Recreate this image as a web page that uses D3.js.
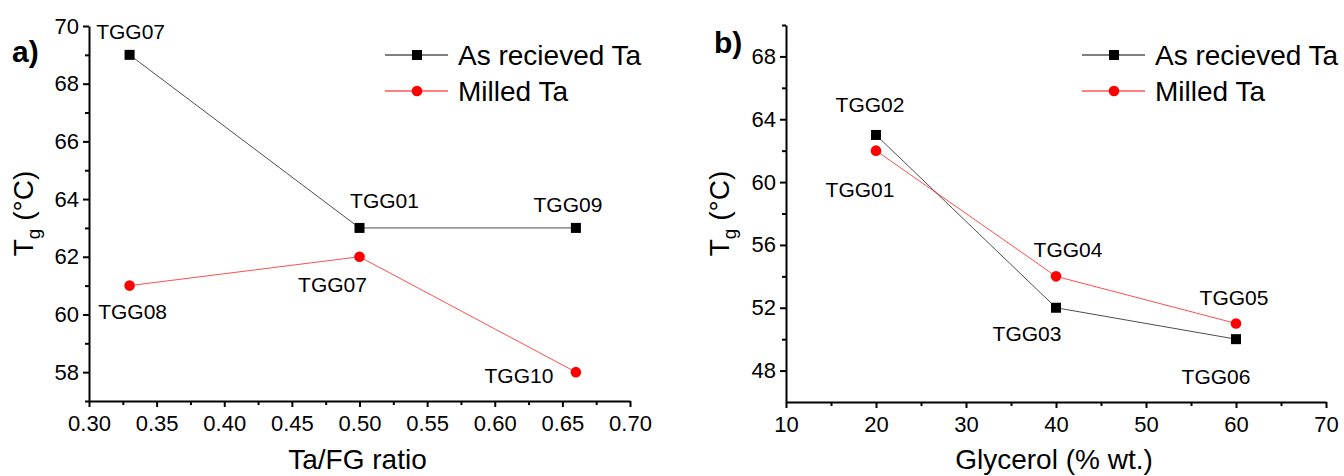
<!DOCTYPE html>
<html>
<head>
<meta charset="utf-8">
<script src="https://cdn.jsdelivr.net/npm/d3@7"></script>
<style>
	body { margin: 0; background: #fff; }
	svg { display: block; font-family: Arial, "Liberation Sans", sans-serif; }
	.axis path, .axis line { stroke: #000; stroke-width: 2; }
	.axis text { font-size: 22px; fill: #000; }
</style>
</head>
<body>
<div id="chart"></div>
<script>
// DATA
// panel a) : Tg against Ta/FG ratio
const ratio = [0.33, 0.50, 0.66];
const ratioAsReceived = [69, 63, 63];
const ratioMilled = [61, 62, 58];
const ratioAsNames = ["TGG07", "TGG01", "TGG09"];
const ratioMilledNames = ["TGG08", "TGG07", "TGG10"];
const ratioTicks = [0.30, 0.35, 0.40, 0.45, 0.50, 0.55, 0.60, 0.65, 0.70];
const ratioTgTicks = [58, 60, 62, 64, 66, 68, 70];

// panel b) : Tg against glycerol content
const glycerol = [20, 40, 60];
const glyAsReceived = [63, 52, 50];
const glyMilled = [62, 54, 51];
const glyAsNames = ["TGG02", "TGG03", "TGG06"];
const glyMilledNames = ["TGG01", "TGG04", "TGG05"];
const glyTicks = [10, 20, 30, 40, 50, 60, 70];
const glyTgTicks = [48, 52, 56, 60, 64, 68];

const seriesNames = ["As recieved Ta", "Milled Ta"];


// SVG
const width = 1344, height = 476;
const svg = d3.select("#chart").append("svg")
	.attr("width", width)
	.attr("height", height);


/** one panel: axes, minor ticks, two series, point names, legend */
function drawPanel(opt) {
	const x = d3.scaleLinear().domain(opt.xDomain).range([opt.left, opt.right]);
	const y = d3.scaleLinear().domain(opt.yDomain).range([opt.bottom, opt.top]);

	// minor ticks
	svg.append("g").attr("class", "axis")
		.attr("transform", `translate(0,${opt.bottom})`)
		.call(d3.axisBottom(x).tickValues(opt.xMinor).tickSize(4).tickSizeOuter(0).tickFormat(""))
		.select(".domain").remove();
	svg.append("g").attr("class", "axis")
		.attr("transform", `translate(${opt.left},0)`)
		.call(d3.axisLeft(y).tickValues(opt.yMinor).tickSize(4).tickSizeOuter(0).tickFormat(""))
		.select(".domain").remove();

	// major axes
	svg.append("g").attr("class", "axis")
		.attr("transform", `translate(0,${opt.bottom})`)
		.call(d3.axisBottom(x).tickValues(opt.xTicks).tickSize(6).tickSizeOuter(0)
			.tickPadding(8).tickFormat(opt.xFormat));
	svg.append("g").attr("class", "axis")
		.attr("transform", `translate(${opt.left},0)`)
		.call(d3.axisLeft(y).tickValues(opt.yTicks).tickSize(6).tickSizeOuter(0)
			.tickPadding(4).tickFormat(d3.format("d")));

	// axis titles
	svg.append("text")
		.attr("x", (opt.left + opt.right) / 2 - 2)
		.attr("y", 469)
		.attr("text-anchor", "middle")
		.attr("font-size", 28)
		.text(opt.xTitle);
	const yt = svg.append("text")
		.attr("transform", `translate(${opt.yTitleX},${(opt.top + opt.bottom) / 2}) rotate(-90)`)
		.attr("text-anchor", "middle")
		.attr("font-size", 28);
	yt.append("tspan").text("T");
	yt.append("tspan").attr("font-size", 19).attr("dy", 7).text("g");
	yt.append("tspan").attr("dy", -7).text(" (\u00B0C)");

	// panel letter
	svg.append("text")
		.attr("x", opt.letterX).attr("y", opt.letterY)
		.attr("font-size", 30).attr("font-weight", "bold")
		.text(opt.letter);

	// series
	const line = d3.line().x(d => x(d[0])).y(d => y(d[1]));
	const asPts = opt.xs.map((v, i) => [v, opt.asVals[i]]);
	const miPts = opt.xs.map((v, i) => [v, opt.miVals[i]]);

	svg.append("path").datum(asPts)
		.attr("d", line).attr("fill", "none").attr("stroke", "#000").attr("stroke-width", 0.7);
	svg.append("path").datum(miPts)
		.attr("d", line).attr("fill", "none").attr("stroke", "#ff0000").attr("stroke-width", 0.7);

	svg.append("g").selectAll("rect").data(asPts).enter().append("rect")
		.attr("x", d => x(d[0]) - 5).attr("y", d => y(d[1]) - 5)
		.attr("width", 10).attr("height", 10).attr("fill", "#000");
	svg.append("g").selectAll("circle").data(miPts).enter().append("circle")
		.attr("cx", d => x(d[0])).attr("cy", d => y(d[1]))
		.attr("r", 5.3).attr("fill", "#ff0000");

	// point names (offsets relative to the marker)
	const names = (pts, labels, offs) => svg.append("g").selectAll("text")
		.data(pts).enter().append("text")
		.attr("x", (d, i) => x(d[0]) + offs[i][0])
		.attr("y", (d, i) => y(d[1]) + offs[i][1])
		.attr("text-anchor", "middle")
		.attr("font-size", 21)
		.text((d, i) => labels[i]);
	names(asPts, opt.asNames, opt.asOff);
	names(miPts, opt.miNames, opt.miOff);

	// legend
	const lg = svg.append("g").attr("transform", `translate(${opt.legendX},55)`);
	seriesNames.forEach((name, i) => {
		const row = lg.append("g").attr("transform", `translate(0,${i * 36})`);
		const col = i === 0 ? "#000" : "#ff0000";
		row.append("line").attr("x1", 0).attr("x2", 63).attr("stroke", col).attr("stroke-width", 1);
		if (i === 0) row.append("rect").attr("x", 27).attr("y", -5).attr("width", 10).attr("height", 10).attr("fill", col);
		else row.append("circle").attr("cx", 32).attr("r", 5.3).attr("fill", col);
		row.append("text").attr("x", 73).attr("y", 10).attr("font-size", 28).text(name);
	});
}


drawPanel({
	left: 89, right: 630, top: 26, bottom: 401,
	xDomain: [0.30, 0.70], yDomain: [57, 70],
	xTicks: ratioTicks, yTicks: ratioTgTicks,
	xMinor: [0.325, 0.375, 0.425, 0.475, 0.525, 0.575, 0.625, 0.675],
	yMinor: [57, 59, 61, 63, 65, 67, 69],
	xFormat: d3.format(".2f"),
	xTitle: "Ta/FG ratio", yTitleX: 33,
	letter: "a)", letterX: 12, letterY: 62,
	xs: ratio, asVals: ratioAsReceived, miVals: ratioMilled,
	asNames: ratioAsNames, miNames: ratioMilledNames,
	asOff: [[1, -16], [25, -20], [-8, -16]],
	miOff: [[3, 33], [-27, 35], [-57, 11]],
	legendX: 385
});

drawPanel({
	left: 786, right: 1326, top: 25, bottom: 402,
	xDomain: [10, 70], yDomain: [46, 70],
	xTicks: glyTicks, yTicks: glyTgTicks,
	xMinor: [15, 25, 35, 45, 55, 65],
	yMinor: [50, 54, 58, 62, 66, 70],
	xFormat: d3.format("d"),
	xTitle: "Glycerol (% wt.)", yTitleX: 729,
	letter: "b)", letterX: 714, letterY: 53,
	xs: glycerol, asVals: glyAsReceived, miVals: glyMilled,
	asNames: glyAsNames, miNames: glyMilledNames,
	asOff: [[-6, -23], [-29, 33], [-20, 45]],
	miOff: [[-16, 46], [12, -19], [-2, -18]],
	legendX: 1082
});
</script>
</body>
</html>
